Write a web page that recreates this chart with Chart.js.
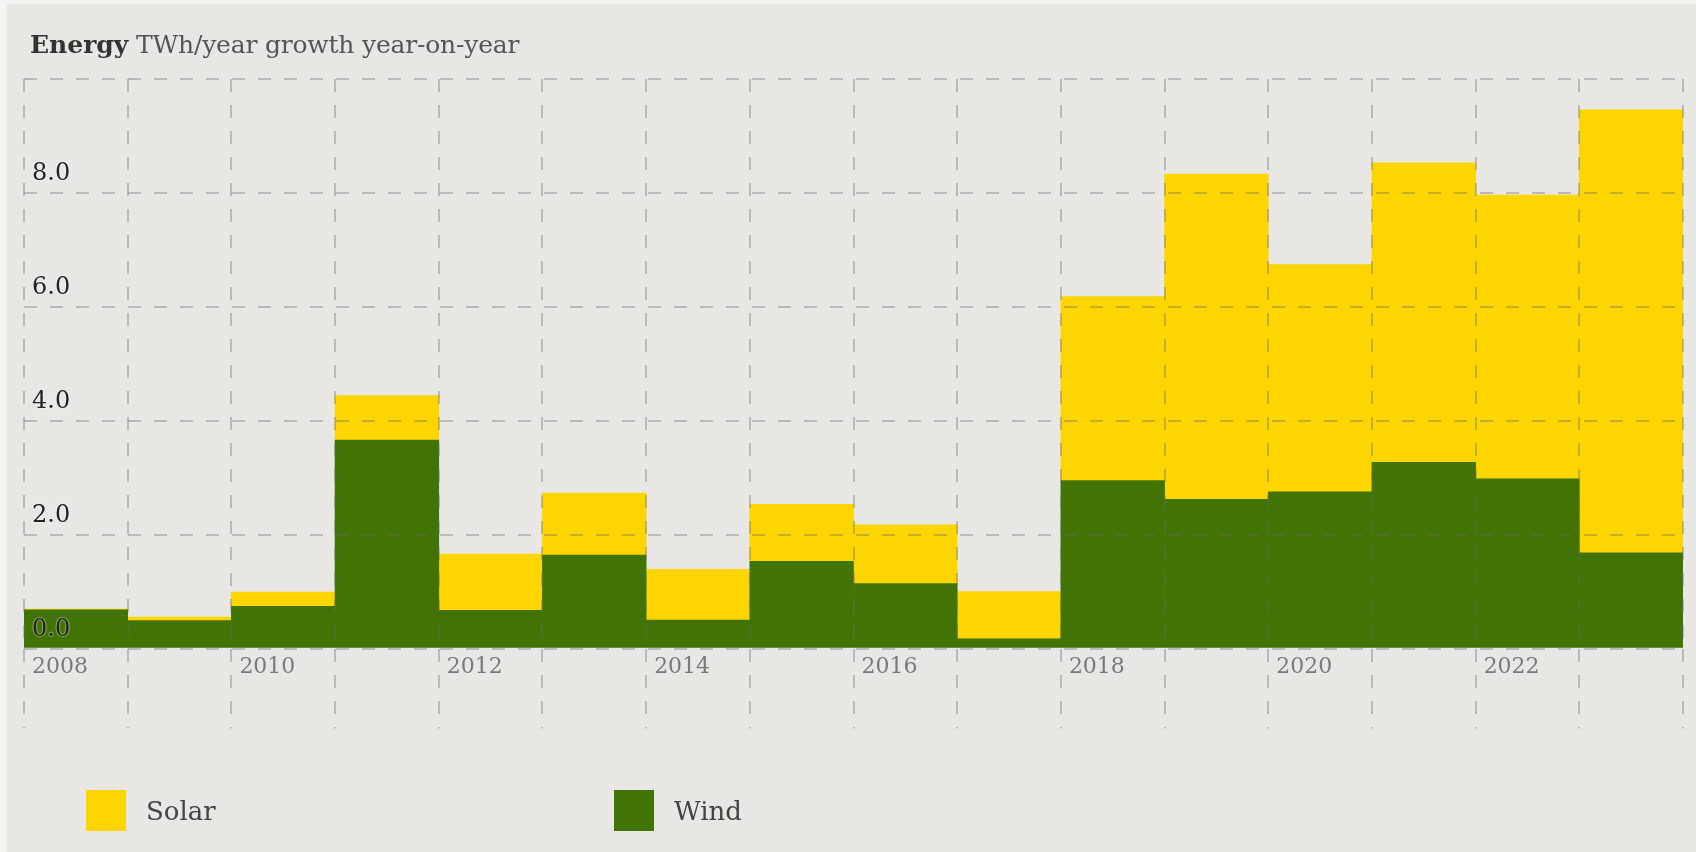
<!DOCTYPE html>
<html>
<head>
<meta charset="utf-8">
<script src="https://cdn.jsdelivr.net/npm/chart.js@4/dist/chart.umd.min.js"></script>
<style>
  html, body { margin: 0; padding: 0; background: #f4f4f2; width: 1696px; height: 852px; overflow: hidden; }
  #panel { position: absolute; left: 7px; top: 4px; width: 1689px; height: 848px; background: #e8e7e3; }
  #c { position: absolute; left: 0; top: 0; }
  #title { position: absolute; left: 30px; top: 30px; font-family: 'DejaVu Serif', serif; font-size: 25px; line-height: 30px; color: #555; white-space: nowrap; letter-spacing: -0.2px; }
  #title b { color: #333; font-weight: bold; letter-spacing: 0; }
  .lg { position: absolute; top: 790px; height: 41px; display: flex; align-items: center; font-family: 'DejaVu Serif', serif; font-size: 26px; color: #444; }
  .lg span.sw { display: inline-block; width: 40px; height: 41px; margin-right: 20px; }
</style>
</head>
<body>
<div id="panel"></div>
<canvas id="c" width="1696" height="852"></canvas>
<div id="title"><b>Energy</b> TWh/year growth year-on-year</div>
<div class="lg" style="left:86px"><span class="sw" style="background:#fdd500"></span>Solar</div>
<div class="lg" style="left:614px"><span class="sw" style="background:#417405"></span>Wind</div>
<script>
const years = [2008, 2009, 2010, 2011, 2012, 2013, 2014, 2015, 2016, 2017, 2018, 2019, 2020, 2021, 2022, 2023];
const wind  = [0.68, 0.49, 0.74, 3.66, 0.67, 1.64, 0.50, 1.53, 1.14, 0.17, 2.95, 2.62, 2.75, 3.27, 2.98, 1.68];
const solar = [0.01, 0.06, 0.25, 0.78, 0.99, 1.09, 0.89, 1.00, 1.03, 0.83, 3.23, 5.71, 3.99, 5.26, 4.98, 7.78];
const yTicks = [0, 2, 4, 6, 8, 10];
const yLabelsHidden = [10];

const SOLAR = '#fdd500';
const WIND = '#417405';
const GRID = 'rgba(105,105,105,0.36)';

const toPts = arr => arr.map((v, i) => ({ x: years[i] + 0.5, y: v }));

new Chart(document.getElementById('c'), {
  type: 'bar',
  data: {
    datasets: [
      { label: 'Wind', data: toPts(wind), backgroundColor: WIND, borderWidth: 0, barPercentage: 1, categoryPercentage: 1 },
      { label: 'Solar', data: toPts(solar), backgroundColor: SOLAR, borderWidth: 0, barPercentage: 1, categoryPercentage: 1 }
    ]
  },
  options: {
    responsive: false,
    animation: false,
    devicePixelRatio: 1,
    layout: { padding: { left: 24, right: 13, top: 79, bottom: 123.5 } },
    plugins: { legend: { display: false }, tooltip: { enabled: false }, title: { display: false } },
    scales: {
      x: {
        type: 'linear',
        stacked: true,
        offset: false,
        min: years[0],
        max: years[years.length - 1] + 1,
        border: { display: false, dash: [13, 13] },
        grid: { z: 1, offset: false, color: GRID, lineWidth: 2, drawTicks: true, tickLength: 80, tickColor: GRID, tickWidth: 2, tickBorderDash: [13, 13] },
        ticks: {
          z: 1,
          stepSize: 1,
          autoSkip: false,
          maxRotation: 0,
          align: 'start',
          labelOffset: 8,
          padding: -74,
          color: '#7a7a7a',
          font: { family: 'DejaVu Serif', size: 22 },
          callback: v => (v % 2 === 0 && v < years[years.length - 1] + 1) ? String(v) : ''
        },
        afterFit: s => { s.height = 80; }
      },
      y: {
        stacked: true,
        min: 0,
        max: 10,
        border: { display: false, dash: [13, 13] },
        afterBuildTicks: s => { s.ticks = yTicks.map(v => ({ value: v })); },
        grid: { z: 1, color: GRID, lineWidth: 2, drawTicks: false },
        ticks: {
          z: 2,
          mirror: true,
          padding: 8,
          labelOffset: -19,
          color: '#222',
          font: { family: 'DejaVu Serif', size: 24 },
          textStrokeColor: 'rgba(255,255,255,0.35)',
          textStrokeWidth: 2,
          callback: v => yLabelsHidden.includes(v) ? '' : v.toFixed(1)
        },
        afterFit: s => { s.width = 0; }
      }
    }
  }
});
</script>
</body>
</html>
